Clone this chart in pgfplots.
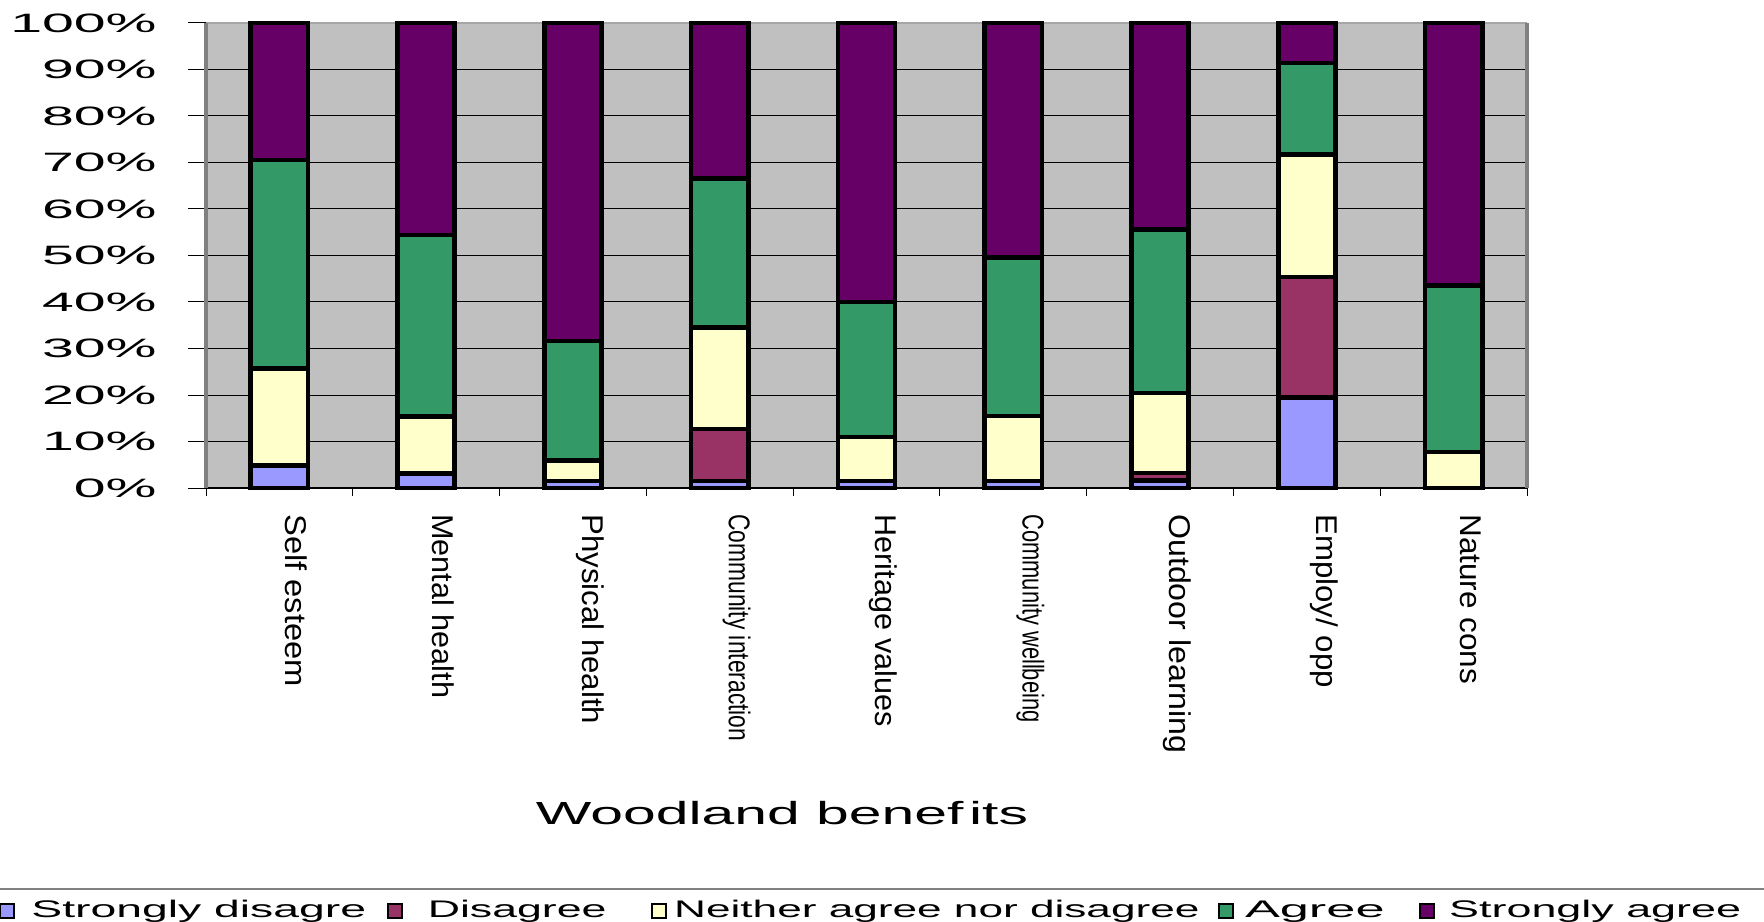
\documentclass[border=0pt]{standalone}
\usepackage{fontspec}
\setmainfont{Liberation Sans}
\usepackage{graphicx}
\usepackage{pgfplots}
\usepackage{pgfplotstable}
\pgfplotsset{compat=1.18}

\definecolor{sdis}{HTML}{9999FF}
\definecolor{dis}{HTML}{993366}
\definecolor{neu}{HTML}{FFFFCC}
\definecolor{agr}{HTML}{339966}
\definecolor{sagr}{HTML}{660066}
\definecolor{wall}{HTML}{C0C0C0}
\definecolor{edge}{HTML}{808080}

% Share of responses (%) per woodland benefit
\pgfplotstableread{
idx sd   d    n    a    sa
0   4.8  0    20.9 44.8 29.5
1   3.1  0    12.3 39.0 45.6
2   1.5  0    4.4  25.7 68.4
3   1.5  11.2 21.8 32.1 33.4
4   1.5  0    9.5  29.0 60.0
5   1.5  0    14.0 34.1 50.4
6   1.6  1.6  17.2 35.2 44.4
7   19.4 26.0 26.3 19.7 8.6
8   0    0    7.7  35.9 56.4
}\benefits

\pgfplotsset{
  sq legend/.style={
    legend image code/.code={
      \draw[##1, draw=black, line width=1pt] (0pt,0pt) rectangle (7pt,7pt);
      \path[draw=none, fill=none] (0pt,0pt) -- (11pt,0pt);
    }
  }
}

\begin{document}
\begin{tikzpicture}
\path[use as bounding box] (0,0) rectangle (882pt,460.5pt);
\begin{axis}[
  at={(103pt,216.5pt)}, anchor=south west,
  scale only axis, width=660.5pt, height=232.5pt,
  clip=false,
  xmin=-0.5, xmax=8.5, ymin=0, ymax=100,
  ybar stacked, bar width=0.39,
  axis background/.style={fill=wall},
  axis line style={draw=none},
  ymajorgrids, major grid style={black, line width=0.5pt},
  ytick={0,10,...,100},
  /pgf/number format/assume math mode=true,
  yticklabel={\scalebox{2.15}[1]{\pgfmathprintnumber{\tick}\%}},
  yticklabel style={font=\fontsize{13.3}{14}\selectfont, anchor=east, inner sep=0pt, xshift=-15.5pt},
  tick align=outside,
  tick pos=left,
  major tick length=9pt,
  minor tick length=4pt,
  tick style={black, line width=0.5pt},
  xtick={0,...,8},
  minor xtick={-0.5,0.5,...,8.5},
  major x tick style={draw=none},
  xticklabels={
    {\scalebox{1.09}[1]{Self esteem}},
    {\scalebox{1.02}[1]{Mental health}},
    {\scalebox{1.04}[1]{Physical health}},
    {\scalebox{0.76}[1]{Community interaction}},
    {\scalebox{1.02}[1]{Heritage values}},
    {\scalebox{0.73}[1]{Community wellbeing}},
    {\scalebox{1.07}[1]{Outdoor learning}},
    {\scalebox{1.04}[1]{Employ/ opp}},
    {\scalebox{1.05}[1]{Nature cons}}
  },
  xticklabel style={font=\fontsize{15}{16}\selectfont, inner sep=0pt,
    xshift=8.5pt, yshift=-4pt, rotate=-90, anchor=west},
  xlabel={\scalebox{1.84}[1]{Woodland benef\kern1.5pt its}},
  x label style={at={(axis description cs:0.436,0)}, anchor=center,
    yshift=-162.5pt, font=\fontsize{16}{17}\selectfont},
  every axis plot post/.append style={sq legend},
  legend columns=-1,
  legend style={at={(axis description cs:0,0)}, anchor=west,
    xshift=-103.6pt, yshift=-211.3pt, draw=none, fill=none,
    inner sep=0pt, outer sep=0pt, column sep=0pt,
    font=\fontsize{12}{13}\selectfont,
    nodes={inner sep=0pt, anchor=base west}},
  legend cell align=left,
]
\addplot[fill=sdis, draw=black, line width=2.3pt] table[x=idx, y=sd] {\benefits};
\addlegendentry{\makebox[182.5pt][l]{\hspace{4.8pt}\scalebox{1.93}[1]{Strongly disagre}}}
\addplot[fill=dis, draw=black, line width=2.3pt] table[x=idx, y=d] {\benefits};
\addlegendentry{\makebox[120.7pt][l]{\hspace{9pt}\scalebox{1.86}[1]{Disagree}}}
\addplot[fill=neu, draw=black, line width=2.3pt] table[x=idx, y=n] {\benefits};
\addlegendentry{\makebox[271.9pt][l]{\scalebox{1.84}[1]{Neither agree nor disagree}}}
\addplot[fill=agr, draw=black, line width=2.3pt] table[x=idx, y=a] {\benefits};
\addlegendentry{\makebox[89.1pt][l]{\hspace{2pt}\scalebox{2.18}[1]{Agree}}}
\addplot[fill=sagr, draw=black, line width=2.3pt] table[x=idx, y=sa] {\benefits};
\addlegendentry{\hspace{3.5pt}\scalebox{1.87}[1]{Strongly agree}}

% plot frame: grey side walls, black base line
\draw[edge, line width=1.6pt] (rel axis cs:0,0) -- (rel axis cs:0,1);
\draw[edge, line width=1.6pt] (rel axis cs:1,0) -- (rel axis cs:1,1);
\draw[edge!70, line width=0.8pt] (rel axis cs:0,1) -- (rel axis cs:1,1);
\draw[black, line width=0.8pt] (rel axis cs:0,0) -- (rel axis cs:1,0);
\end{axis}
% separator above the legend
\draw[edge, line width=1pt] (0,16pt) -- (882pt,16pt);
\end{tikzpicture}
\end{document}
